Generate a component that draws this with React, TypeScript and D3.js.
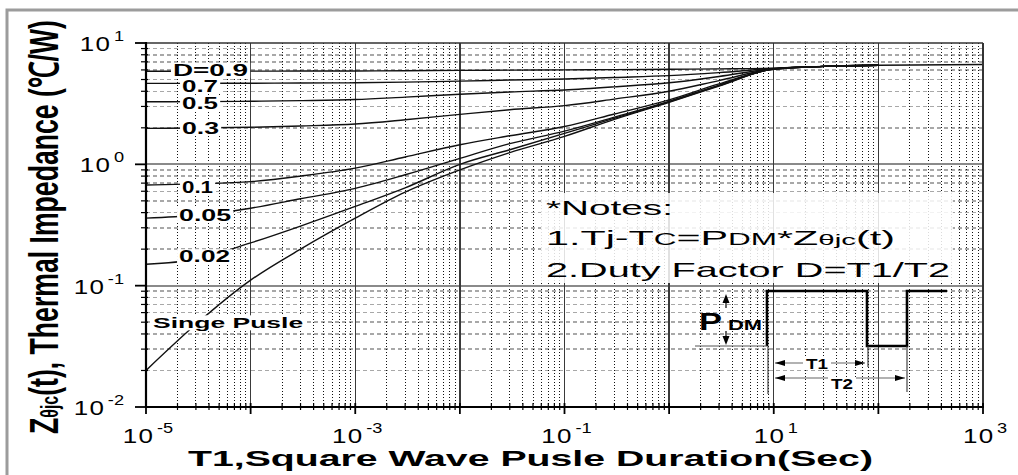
import React, { useEffect, useRef } from 'react';
import * as d3 from 'd3';

const W = 1018;
const H = 475;

// pulse duration samples (s)
const T_SEC = [1e-5, 3e-5, 1e-4, 3e-4, 1e-3, 3e-3, 1e-2, 3e-2, 1e-1, 3e-1, 1, 3, 10, 30, 100, 1000];
// thermal impedance (°C/W) per duty factor
const Z_D09 = [5.85, 5.85, 5.86, 5.87, 5.88, 5.91, 5.95, 5.98, 6.0, 6.03, 6.07, 6.12, 6.2, 6.42, 6.55];
const Z_D07 = [4.65, 4.65, 4.66, 4.68, 4.7, 4.76, 4.85, 4.95, 5.05, 5.2, 5.38, 5.7, 6.18, 6.42, 6.55];
const Z_D05 = [3.28, 3.29, 3.31, 3.35, 3.42, 3.58, 3.78, 3.95, 4.1, 4.35, 4.7, 5.3, 6.15, 6.42, 6.55];
const Z_D03 = [1.98, 1.99, 2.02, 2.07, 2.15, 2.33, 2.58, 2.82, 3.05, 3.45, 4.0, 4.9, 6.12, 6.42, 6.55];
const Z_D01 = [0.675, 0.69, 0.72, 0.8, 0.93, 1.15, 1.45, 1.72, 2.05, 2.6, 3.4, 4.6, 6.1, 6.42, 6.55];
const Z_D005 = [0.36, 0.38, 0.435, 0.52, 0.634, 0.82, 1.12, 1.48, 1.88, 2.45, 3.3, 4.5, 6.1, 6.42, 6.55];
const Z_D002 = [0.15, 0.165, 0.225, 0.31, 0.45, 0.64, 1.0, 1.32, 1.8, 2.4, 3.28, 4.45, 6.1, 6.42, 6.55];
const Z_SINGLE = [0.02, 0.048, 0.111, 0.2, 0.36, 0.59, 0.9, 1.25, 1.7, 2.35, 3.25, 4.42, 6.1, 6.42, 6.55, 6.65];

const SERIES_LABELS = ['D=0.9', '0.7', '0.5', '0.3', '0.1', '0.05', '0.02', 'Singe Pusle'];
const SERIES_VALUES = [Z_D09, Z_D07, Z_D05, Z_D03, Z_D01, Z_D005, Z_D002, Z_SINGLE];
// label anchor in data units (start time, impedance at label centre)
const LABEL_T = [1.81e-5, 2.21e-5, 2.21e-5, 2.21e-5, 2.21e-5, 2.07e-5, 2.07e-5, 1.17e-5];
const LABEL_Z = [5.99, 4.42, 3.2, 1.99, 0.65, 0.382, 0.174, 0.0493];
const LABEL_LEN = [75, 36, 36, 37, 31, 52, 51, 150];

const X_TICK_EXP = [-5, -3, -1, 1, 3];
const Y_TICK_EXP = [-2, -1, 0, 1];

const FONT = "'Liberation Sans', Arial, Helvetica, sans-serif";

export default function App() {
  const ref = useRef<SVGSVGElement>(null);

  useEffect(() => {
    const svg = d3.select(ref.current as SVGSVGElement);
    svg.selectAll('*').remove();

    const L = 146, R = 983, TOP = 43, B = 407;
    const x = d3.scaleLog().domain([1e-5, 1e3]).range([L, R]);
    const y = d3.scaleLog().domain([1e-2, 1e1]).range([B, TOP]);

    svg.append('rect').attr('width', W).attr('height', H).attr('fill', '#fff');
    // outer frame (extends past the right / bottom edges)
    svg.append('path').attr('d', `M7,${H + 5}V10H${W + 5}`)
      .attr('fill', 'none').attr('stroke', '#9c9c9c').attr('stroke-width', 3);

    svg.append('defs').append('clipPath').attr('id', 'plotclip')
      .append('rect').attr('x', L).attr('y', TOP).attr('width', R - L).attr('height', B - TOP);

    // grid
    const grid = svg.append('g').attr('shape-rendering', 'crispEdges');
    const xMinor: number[] = [];
    for (let e = -5; e < 3; e++) for (let k = 2; k <= 9; k++) xMinor.push(k * Math.pow(10, e));
    const xMajor: number[] = [];
    for (let e = -4; e <= 2; e++) xMajor.push(Math.pow(10, e));
    const yMinor: number[] = [];
    for (let e = -2; e < 1; e++) for (let k = 2; k <= 9; k++) yMinor.push(k * Math.pow(10, e));
    const yMajor = [1e-1, 1];

    grid.selectAll('.hmin').data(yMinor).join('line')
      .attr('x1', L).attr('x2', R).attr('y1', (d) => y(d)).attr('y2', (d) => y(d))
      .attr('stroke', '#a8a8a8').attr('stroke-width', 1.5).attr('stroke-dasharray', '4,3');
    grid.selectAll('.vmin').data(xMinor).join('line')
      .attr('y1', TOP).attr('y2', B).attr('x1', (d) => x(d)).attr('x2', (d) => x(d))
      .attr('stroke', '#111').attr('stroke-width', 1).attr('stroke-dasharray', '1,2');
    grid.selectAll('.hmaj').data(yMajor).join('line')
      .attr('x1', L).attr('x2', R).attr('y1', (d) => y(d)).attr('y2', (d) => y(d))
      .attr('stroke', '#8a8a8a').attr('stroke-width', 2);
    grid.selectAll('.vmaj').data(xMajor).join('line')
      .attr('y1', TOP).attr('y2', B).attr('x1', (d) => x(d)).attr('x2', (d) => x(d))
      .attr('stroke', '#3a3a3a').attr('stroke-width', 1.4);

    // notes background
    svg.append('rect').attr('x', 541).attr('y', 193).attr('width', 412).attr('height', 90)
      .attr('fill', '#fff').attr('opacity', 0.85);

    // curves
    const curves = svg.append('g').attr('clip-path', 'url(#plotclip)');
    SERIES_VALUES.forEach((vals) => {
      const line = d3.line<number>()
        .x((_d, i) => x(T_SEC[i]))
        .y((d) => y(d))
        .curve(d3.curveMonotoneX);
      curves.append('path').attr('d', line(vals) as string)
        .attr('fill', 'none').attr('stroke', '#111').attr('stroke-width', 1.4);
    });

    // curve labels
    SERIES_LABELS.forEach((lab, i) => {
      const gl = svg.append('g');
      const bg = gl.append('rect').attr('fill', '#fff');
      const t = gl.append('text')
        .attr('x', x(LABEL_T[i])).attr('y', y(LABEL_Z[i])).attr('dy', '0.36em')
        .attr('font-family', FONT).attr('font-weight', 'bold')
        .attr('font-size', i === 7 ? 15 : 16)
        .attr('textLength', LABEL_LEN[i]).attr('lengthAdjust', 'spacingAndGlyphs')
        .attr('fill', '#000').text(lab);
      const bb = (t.node() as SVGTextElement).getBBox();
      bg.attr('x', bb.x - 2).attr('y', bb.y + 1).attr('width', bb.width + 4).attr('height', bb.height - 2);
    });

    // axes frame
    const ax = svg.append('g');
    ax.append('line').attr('x1', L).attr('x2', R).attr('y1', TOP).attr('y2', TOP).attr('stroke', '#333').attr('stroke-width', 1.6);
    ax.append('line').attr('x1', R).attr('x2', R).attr('y1', TOP).attr('y2', B).attr('stroke', '#333').attr('stroke-width', 2);
    ax.append('line').attr('x1', L).attr('x2', L).attr('y1', TOP - 1).attr('y2', B + 1).attr('stroke', '#000').attr('stroke-width', 2.2);
    ax.append('line').attr('x1', L - 1).attr('x2', R + 1).attr('y1', B).attr('y2', B).attr('stroke', '#000').attr('stroke-width', 2.2);

    const xAllMajor: number[] = [];
    for (let e = -5; e <= 3; e++) xAllMajor.push(Math.pow(10, e));
    ax.selectAll('.xmt').data(xAllMajor).join('line')
      .attr('x1', (d) => x(d)).attr('x2', (d) => x(d)).attr('y1', B - 4).attr('y2', B + 7)
      .attr('stroke', '#000').attr('stroke-width', 1.8);
    ax.selectAll('.xnt').data(xMinor).join('line')
      .attr('x1', (d) => x(d)).attr('x2', (d) => x(d)).attr('y1', B - 4).attr('y2', B + 3)
      .attr('stroke', '#000').attr('stroke-width', 1.2);
    const yAllMajor = [1e-2, 1e-1, 1, 10];
    ax.selectAll('.ymt').data(yAllMajor).join('line')
      .attr('y1', (d) => y(d)).attr('y2', (d) => y(d)).attr('x1', L - 11).attr('x2', L)
      .attr('stroke', '#000').attr('stroke-width', 1.8);
    ax.selectAll('.ynt').data(yMinor).join('line')
      .attr('y1', (d) => y(d)).attr('y2', (d) => y(d)).attr('x1', L - 5).attr('x2', L + 2)
      .attr('stroke', '#000').attr('stroke-width', 1.2);

    // tick labels
    const pow = (parent: any, tx: number, ty: number, e: number, anchor: string) => {
      const gg = parent.append('g').attr('transform', `translate(${tx},${ty}) scale(1.3,1)`);
      const t = gg.append('text').attr('font-family', FONT).attr('font-size', 20)
        .attr('text-anchor', anchor).attr('fill', '#000');
      t.append('tspan').attr('letter-spacing', 1).text('10');
      t.append('tspan').attr('font-size', 14).attr('dx', 2).attr('dy', -10).text(String(e));
    };
    X_TICK_EXP.forEach((e) => pow(svg, x(Math.pow(10, e)) + 2, 443, e, 'middle'));
    Y_TICK_EXP.forEach((e) => pow(svg, 124, y(Math.pow(10, e)) + 8, e, 'end'));

    // axis titles
    svg.append('text').attr('x', 188).attr('y', 466)
      .attr('font-family', FONT).attr('font-weight', 'bold').attr('font-size', 22)
      .attr('textLength', 685).attr('lengthAdjust', 'spacingAndGlyphs')
      .attr('fill', '#000').text('T1,Square Wave Pusle Duration(Sec)');

    // y title: measured, then compressed along its length to fit the span
    const ytg = svg.append('g');
    const yt = ytg.append('text').attr('x', 0).attr('y', 0)
      .attr('font-family', FONT).attr('font-weight', 'bold').attr('font-size', 40).attr('fill', '#000');
    yt.append('tspan').text('Z');
    yt.append('tspan').attr('font-size', 24).text('θjc');
    yt.append('tspan').text('(t), Thermal Impedance (℃/W)');
    const natural = (yt.node() as SVGTextElement).getComputedTextLength() || 620;
    const sLen = 414 / natural;
    ytg.attr('transform', `translate(58,434) rotate(-90) scale(${sLen},1)`);

    // notes
    const note = (tx: number, ty: number, len: number) =>
      svg.append('text').attr('x', tx).attr('y', ty).attr('font-family', FONT).attr('font-size', 21)
        .attr('textLength', len).attr('lengthAdjust', 'spacingAndGlyphs').attr('fill', '#000');
    note(546, 215, 127).text('*Notes:');
    const n1 = note(546, 245, 349);
    n1.append('tspan').text('1.Tj-T');
    n1.append('tspan').attr('font-size', 16).text('C');
    n1.append('tspan').text('=P');
    n1.append('tspan').attr('font-size', 16).text('DM');
    n1.append('tspan').text('*Z');
    n1.append('tspan').attr('font-size', 15).text('θjc');
    n1.append('tspan').text('(t)');
    note(546, 277, 404).text('2.Duty Factor D=T1/T2');

    // pulse diagram
    const pd = svg.append('g');
    const yHi = 291, yLo = 346;
    const x0 = 767, x1 = 867, x2 = 907, x3 = 947;
    pd.append('path').attr('d', `M${x0},${yLo}V${yHi}H${x1}V${yLo}H${x2}V${yHi}H${x3}`)
      .attr('fill', 'none').attr('stroke', '#000').attr('stroke-width', 2.6);
    pd.append('path').attr('d', `M${x0 + 1},${yLo}V394M${x1 + 1},${yLo}V367M${x2},${yLo}V392`)
      .attr('fill', 'none').attr('stroke', '#333').attr('stroke-width', 1.1);
    pd.append('line').attr('x1', 695).attr('x2', x0).attr('y1', yLo).attr('y2', yLo)
      .attr('stroke', '#555').attr('stroke-width', 1);
    const tri = (tx: number, ty: number, dir: string) => {
      let d = '';
      if (dir === 'up') d = `M${tx},${ty}L${tx - 3.5},${ty + 9}L${tx + 3.5},${ty + 9}Z`;
      if (dir === 'down') d = `M${tx},${ty}L${tx - 3.5},${ty - 9}L${tx + 3.5},${ty - 9}Z`;
      if (dir === 'left') d = `M${tx},${ty}L${tx + 10},${ty - 3}L${tx + 10},${ty + 3}Z`;
      if (dir === 'right') d = `M${tx},${ty}L${tx - 10},${ty - 3}L${tx - 10},${ty + 3}Z`;
      pd.append('path').attr('d', d).attr('fill', '#000');
    };
    // P_DM arrows
    tri(726, 294, 'up');
    tri(726, 345, 'down');
    pd.append('path').attr('d', 'M726,303V308M726,331V337').attr('stroke', '#000').attr('stroke-width', 1.2);
    pd.append('text').attr('x', 699).attr('y', 330).attr('font-family', FONT)
      .attr('font-weight', 'bold').attr('font-size', 24).attr('textLength', 23)
      .attr('lengthAdjust', 'spacingAndGlyphs').attr('fill', '#000').text('P');
    pd.append('text').attr('x', 728).attr('y', 330).attr('font-family', FONT)
      .attr('font-weight', 'bold').attr('font-size', 15).attr('textLength', 34)
      .attr('lengthAdjust', 'spacingAndGlyphs').attr('fill', '#000').text('DM');

    // T1 / T2 dimension arrows
    pd.append('line').attr('x1', 775).attr('x2', 865).attr('y1', 363).attr('y2', 363).attr('stroke', '#666').attr('stroke-width', 1.2);
    tri(775, 363, 'left');
    tri(865, 363, 'right');
    pd.append('line').attr('x1', 775).attr('x2', 905).attr('y1', 378).attr('y2', 378).attr('stroke', '#666').attr('stroke-width', 1.2);
    tri(775, 378, 'left');
    tri(905, 378, 'right');
    const lbl = (tx: number, ty: number, s: string) => {
      const t = pd.append('text').attr('x', tx).attr('y', ty).attr('font-family', FONT)
        .attr('font-weight', 'bold').attr('font-size', 15).attr('text-anchor', 'middle')
        .attr('textLength', 22).attr('lengthAdjust', 'spacingAndGlyphs').attr('fill', '#000').text(s);
      const bb = (t.node() as SVGTextElement).getBBox();
      pd.insert('rect', () => t.node() as any).attr('x', bb.x - 3).attr('y', bb.y + 2)
        .attr('width', bb.width + 6).attr('height', bb.height - 4).attr('fill', '#fff');
    };
    lbl(817, 369, 'T1');
    lbl(842, 389, 'T2');
  }, []);

  return (
    <svg
      ref={ref}
      width={W}
      height={H}
      viewBox={`0 0 ${W} ${H}`}
      style={{ position: 'absolute', left: 0, top: 0, display: 'block' }}
    />
  );
}
